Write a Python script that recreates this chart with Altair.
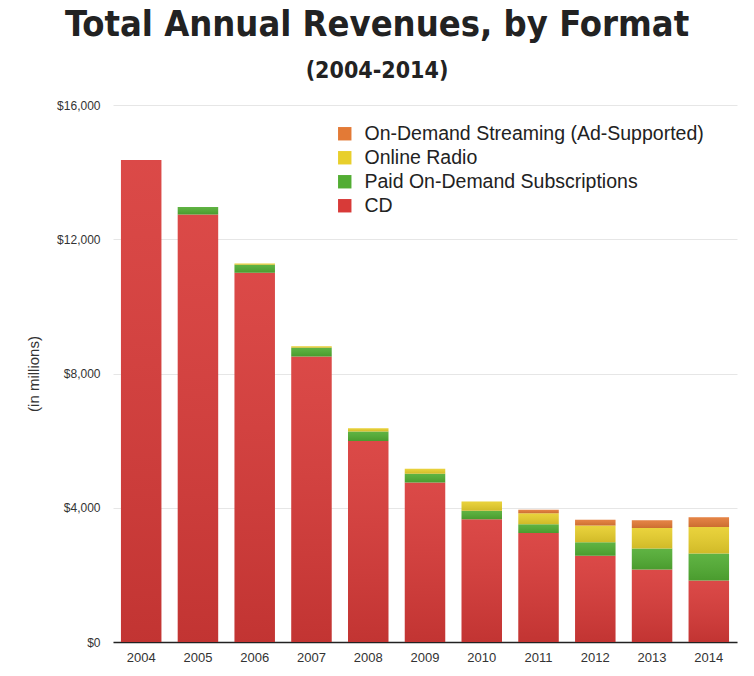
import altair as alt
import pandas as pd

years = ["2004", "2005", "2006", "2007", "2008", "2009", "2010", "2011", "2012", "2013", "2014"]
cd = [14360, 12740, 11000, 8510, 5990, 4750, 3660, 3250, 2570, 2160, 1830]
subs = [0, 220, 240, 260, 280, 260, 250, 260, 400, 625, 805]
radio = [0, 0, 40, 40, 100, 150, 275, 325, 500, 615, 795]
stream = [0, 0, 0, 0, 0, 0, 0, 105, 170, 230, 290]

series_names = ["CD", "Paid On-Demand Subscriptions", "Online Radio", "On-Demand Streaming (Ad-Supported)"]
series_values = [cd, subs, radio, stream]
legend_order = ["On-Demand Streaming (Ad-Supported)", "Online Radio", "Paid On-Demand Subscriptions", "CD"]
legend_colors = ["#e37a36", "#e8cf2c", "#52ad33", "#d83a38"]

rows = []
for k, (name, vals) in enumerate(zip(series_names, series_values)):
    for y, v in zip(years, vals):
        rows.append({"year": y, "format": name, "value": v, "ord": k})
df = pd.DataFrame(rows)

title_font = "'DejaVu Sans Condensed', 'Liberation Sans Narrow', 'Arial Narrow', Roboto, sans-serif"

base = alt.Chart(df).transform_stack(
    stack="value", groupby=["year"], as_=["y0", "y1"],
    sort=[alt.SortField("ord", order="ascending")]
)

x_enc = alt.X("year:N", title=None,
              scale=alt.Scale(paddingInner=0.287, paddingOuter=0.14),
              axis=alt.Axis(labelAngle=0, ticks=False, domain=True, domainColor="#222222",
                            domainWidth=1.5, labelFontSize=13, labelColor="#333333",
                            labelPadding=9, labelFont="Liberation Sans"))

y_enc = alt.Y("y0:Q", title="(in millions)",
              scale=alt.Scale(domain=[0, 16000], nice=False),
              axis=alt.Axis(values=[0, 4000, 8000, 12000, 16000], format="$,d", ticks=False,
                            domain=False, labelPadding=13, labelFontSize=12,
                            labelColor="#333333", labelFont="Liberation Sans",
                            gridColor="#e6e6e6", gridWidth=1,
                            titleFontSize=15, titleFontWeight="normal", titleColor="#333333",
                            titleFont="Liberation Sans", titlePadding=15))

bars = base.mark_bar().encode(
    x=x_enc,
    y=y_enc,
    y2="y1:Q",
    color=alt.Color("format:N", sort=legend_order,
                    scale=alt.Scale(domain=legend_order, range=legend_colors),
                    legend=alt.Legend(title=None, orient="none", legendX=222, legendY=19,
                                      symbolType="square", symbolSize=180, symbolStrokeWidth=0,
                                      labelFontSize=19.5, labelColor="#222222",
                                      labelFont="Liberation Sans", labelOffset=10,
                                      labelLimit=0, rowPadding=3, padding=0)),
)

shade = base.mark_bar(
    color=alt.Gradient(
        gradient="linear",
        stops=[alt.GradientStop(color="rgba(255,255,255,0.08)", offset=0),
               alt.GradientStop(color="rgba(0,0,0,0.10)", offset=1)],
        x1=0, x2=0, y1=0, y2=1,
    )
).encode(x="year:N", y="y0:Q", y2="y1:Q")

chart = alt.layer(bars, shade).properties(
    width=624,
    height=537,
    autosize=alt.AutoSizeParams(type="none"),
    padding={"left": 105, "top": 97, "right": 8, "bottom": 24},
    background="white",
    title=alt.TitleParams(
        text="Total Annual Revenues, by Format",
        subtitle="(2004-2014)",
        font=title_font,
        fontSize=36,
        fontWeight="bold",
        color="#222222",
        subtitleFont=title_font,
        subtitleFontSize=23,
        subtitleFontWeight="bold",
        subtitleColor="#222222",
        subtitlePadding=16,
        anchor="middle",
        dx=-48,
        offset=15,
    ),
).configure_view(stroke=None)

chart.save("out.html", embed_options={"renderer": "svg", "actions": False})
